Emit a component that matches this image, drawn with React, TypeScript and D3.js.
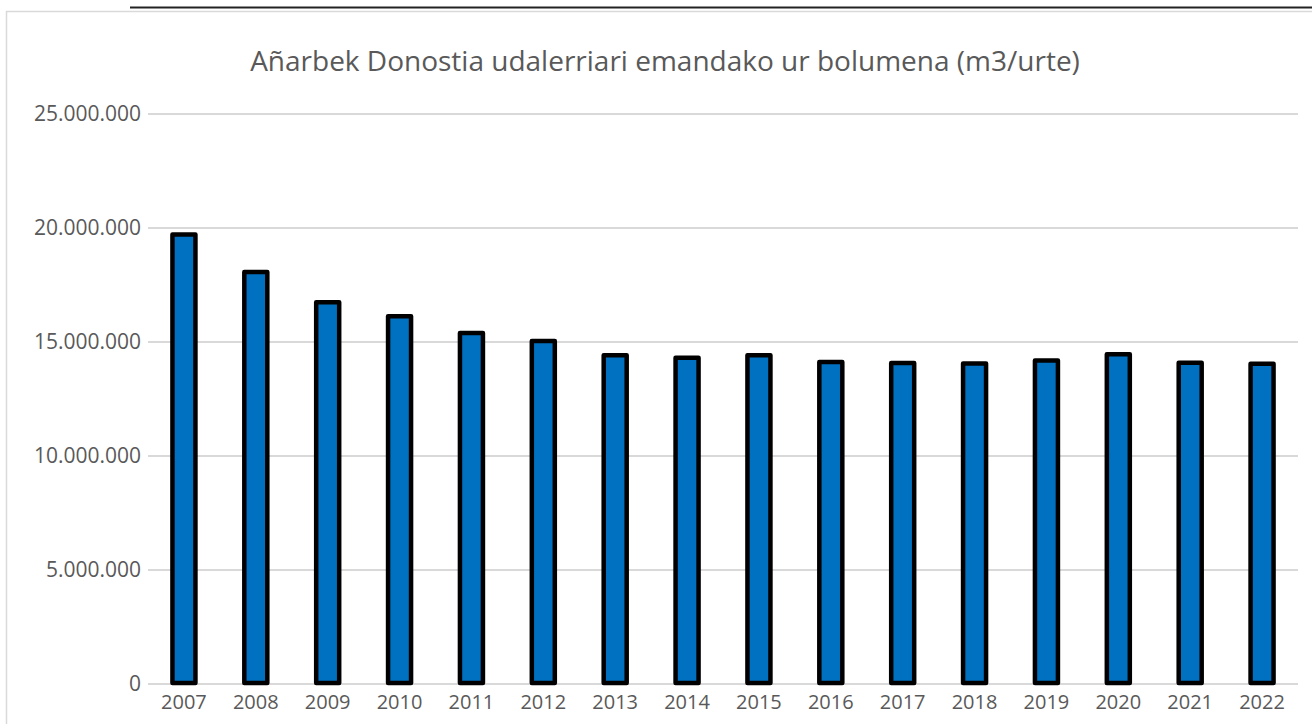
import * as d3 from "d3";

const width = 1312;
const height = 724;
const margin = { left: 148, right: 14, top: 114, bottom: 40 };

const title = "Añarbek Donostia udalerriari emandako ur bolumena (m3/urte)";
const years = [
  "2007", "2008", "2009", "2010", "2011", "2012", "2013", "2014",
  "2015", "2016", "2017", "2018", "2019", "2020", "2021", "2022",
];
const volumes = [
  19710000, 18070000, 16740000, 16130000, 15390000, 15040000, 14420000, 14310000,
  14420000, 14120000, 14080000, 14060000, 14190000, 14460000, 14090000, 14050000,
];
const yTicks = [0, 5000000, 10000000, 15000000, 20000000, 25000000];

const font = "'Open Sans', sans-serif";
const textColor = "#595959";

export default function App() {
  const xScale = d3
    .scaleBand()
    .domain(years)
    .range([margin.left, width - margin.right])
    .paddingInner(0.68)
    .paddingOuter(0.34);
  const yScale = d3
    .scaleLinear()
    .domain([0, 25000000])
    .range([height - margin.bottom, margin.top]);
  const fmt = (v: number) =>
    v === 0 ? "0" : d3.format(",")(v).replace(/,/g, ".");

  return (
    <svg
      width={width}
      height={height}
      style={{ position: "absolute", left: 0, top: 0, background: "#fff" }}
    >
      <line x1={130} x2={width} y1={7.5} y2={7.5} stroke="#222" strokeWidth={2} />
      <rect
        x={6.5}
        y={11.5}
        width={width + 10}
        height={height + 10}
        fill="none"
        stroke="#d9d9d9"
        strokeWidth={1.5}
      />
      <text
        x={665}
        y={71}
        textAnchor="middle"
        fontFamily={font}
        fontSize={28}
        fill={textColor}
      >
        {title}
      </text>

      {yTicks.map((t) => (
        <g key={t}>
          <line
            x1={margin.left}
            x2={width - margin.right}
            y1={yScale(t)}
            y2={yScale(t)}
            stroke="#d9d9d9"
            strokeWidth={2}
          />
          <text
            x={141}
            y={yScale(t)}
            dy="0.35em"
            textAnchor="end"
            fontFamily={font}
            fontSize={21}
            fill={textColor}
          >
            {fmt(t)}
          </text>
        </g>
      ))}

      {years.map((yr, i) => (
        <rect
          key={yr}
          x={xScale(yr)}
          y={yScale(volumes[i])}
          width={xScale.bandwidth()}
          height={yScale(0) - yScale(volumes[i]) - 1}
          fill="#0070C0"
          stroke="#000"
          strokeWidth={4.5}
          strokeLinejoin="round"
        />
      ))}

      {years.map((yr) => (
        <text
          key={yr}
          x={(xScale(yr) ?? 0) + xScale.bandwidth() / 2}
          y={709}
          textAnchor="middle"
          fontFamily={font}
          fontSize={20}
          fill={textColor}
        >
          {yr}
        </text>
      ))}
    </svg>
  );
}
